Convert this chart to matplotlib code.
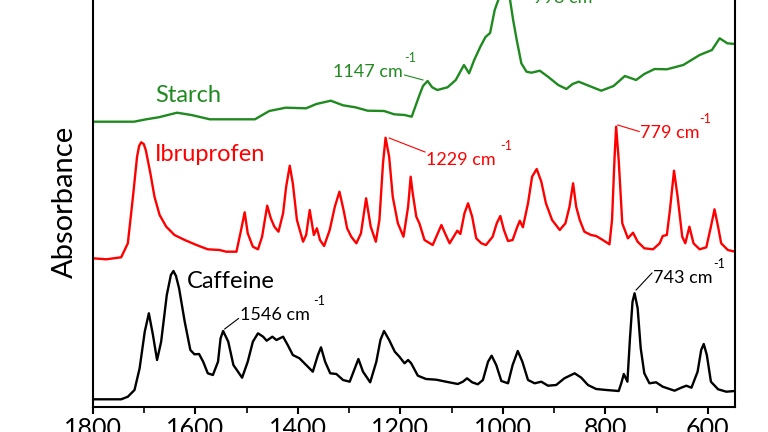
import matplotlib
matplotlib.use("Agg")
import matplotlib.pyplot as plt
from matplotlib.ticker import MultipleLocator

plt.rcParams['font.family'] = ['Lato', 'DejaVu Sans']

# ---------------- data (wavenumber cm^-1, absorbance a.u., stacked) ----------------
caffeine_wn = [1800, 1745, 1732, 1719, 1709, 1699, 1691, 1683, 1675, 1667, 1656, 1648, 1643,
               1638, 1632,
               1621, 1610, 1602, 1593, 1585, 1576, 1566, 1556, 1551, 1546, 1536, 1526, 1509,
               1498, 1488, 1478, 1468, 1461, 1450, 1442, 1429, 1420, 1410, 1397, 1384, 1371,
               1361, 1355, 1347, 1337, 1325, 1312, 1299, 1289, 1282, 1273, 1259, 1247, 1239,
               1232, 1222, 1211, 1202, 1192, 1185, 1179, 1172, 1166, 1150, 1130, 1111, 1088,
               1078, 1070, 1060, 1049, 1039, 1029, 1022, 1013, 1003, 990, 981, 971, 962, 951,
               938, 925, 912, 896, 880, 860, 847, 834, 818, 798, 774, 769, 764, 757, 752, 747,
               743, 737, 731, 724, 714, 701, 688, 665, 652, 642, 632, 620, 613, 608, 602, 594,
               580, 564, 547]
caffeine_ab = [0.077, 0.077, 0.103, 0.17, 0.387, 0.753, 0.937, 0.72, 0.47, 0.653, 1.12, 1.32,
               1.36, 1.31,
               1.187, 0.853, 0.57, 0.527, 0.53, 0.453, 0.337, 0.32, 0.453, 0.687, 0.76, 0.653,
               0.42, 0.293, 0.453, 0.653, 0.737, 0.703, 0.663, 0.703, 0.67, 0.703, 0.62, 0.52,
               0.487, 0.42, 0.353, 0.52, 0.597, 0.453, 0.337, 0.33, 0.27, 0.253, 0.387, 0.48,
               0.353, 0.247, 0.453, 0.67, 0.76, 0.67, 0.553, 0.503, 0.437, 0.47, 0.437, 0.37,
               0.313, 0.28, 0.273, 0.253, 0.23, 0.253, 0.287, 0.247, 0.227, 0.27, 0.453, 0.513,
               0.42, 0.26, 0.237, 0.42, 0.56, 0.453, 0.27, 0.237, 0.253, 0.213, 0.22, 0.287,
               0.337, 0.293, 0.22, 0.18, 0.17, 0.16, 0.237, 0.33, 0.253, 0.687, 1.053, 1.137,
               0.987, 0.587, 0.337, 0.237, 0.247, 0.203, 0.163, 0.193, 0.213, 0.193, 0.353,
               0.57, 0.63, 0.52, 0.253, 0.177, 0.153, 0.16]

ibuprofen_wn = [1800, 1774, 1745, 1732, 1722, 1714, 1710, 1706, 1701, 1697, 1688, 1680, 1670,
                1657, 1641,
                1621, 1598, 1576, 1553, 1540, 1520, 1511, 1504, 1498, 1488, 1478, 1470, 1460,
                1453, 1446, 1438, 1429, 1423, 1416, 1410, 1402, 1390, 1384, 1377, 1369, 1363,
                1357, 1349, 1338, 1328, 1319, 1311, 1304, 1296, 1286, 1277, 1267, 1258, 1248,
                1241, 1234, 1229, 1222, 1215, 1205, 1194, 1185, 1180, 1176, 1169, 1163, 1153,
                1137, 1127, 1120, 1113, 1104, 1094, 1089, 1083, 1075, 1068, 1060, 1052, 1042,
                1033, 1020, 1012, 1005, 998, 990, 981, 973, 967, 961, 951, 943, 934, 925, 916,
                904, 889, 878, 870, 863, 857, 850, 841, 828, 818, 805, 792, 787, 782, 779, 774,
                767, 756, 746, 737, 724, 707, 694, 688, 680, 674, 666, 659, 650, 644, 636, 628,
                616, 603, 594, 587, 580, 574, 561, 547]
ibuprofen_ab = [1.487, 1.477, 1.497, 1.637, 2.103, 2.503, 2.61, 2.647, 2.63, 2.57, 2.337,
                2.103, 1.92, 1.803, 1.72,
                1.67, 1.62, 1.577, 1.57, 1.553, 1.553, 1.77, 1.947, 1.737, 1.603,
                1.577, 1.703, 2.013, 1.887, 1.803, 1.753, 1.937, 2.203, 2.413, 2.237, 1.87,
                1.653, 1.72, 1.97, 1.72, 1.787, 1.67, 1.61, 1.77, 2.003, 2.153, 1.97, 1.787,
                1.703, 1.637, 1.737, 2.087, 1.803, 1.653, 1.87, 2.437, 2.693, 2.503, 2.103,
                1.837, 1.703, 2.003, 2.303, 2.137, 1.903, 1.837, 1.67, 1.62, 1.737, 1.82,
                1.737, 1.637, 1.72, 1.763, 1.73, 1.937, 2.037, 1.903, 1.687, 1.637, 1.62,
                1.703, 1.837, 1.91, 1.77, 1.66, 1.67, 1.787, 1.863, 1.797, 2.037, 2.303, 2.38,
                2.253, 2.037, 1.87, 1.77, 1.837, 2.003, 2.237, 2.003, 1.87, 1.753, 1.72, 1.71,
                1.67, 1.627, 1.87, 2.503, 2.803, 2.47, 1.837, 1.687, 1.743, 1.653, 1.587,
                1.577, 1.637, 1.71, 1.72, 1.97, 2.363, 2.103, 1.703, 1.637, 1.803, 1.637,
                1.577, 1.597, 1.803, 1.977, 1.803, 1.637, 1.57, 1.553]

starch_wn = [1800, 1720, 1696, 1672, 1636, 1608, 1572, 1484, 1456, 1424, 1384, 1364, 1336,
             1312, 1288, 1264, 1232, 1212, 1192, 1178, 1164, 1156, 1147, 1138, 1128, 1108,
             1092, 1076, 1066, 1056, 1044, 1034, 1025, 1016, 1009, 1003, 998, 992, 986, 980,
             973, 964, 954, 944, 928, 912, 892, 876, 864, 852, 836, 808, 784, 762, 740, 724,
             704, 680, 648, 616, 592, 577, 562, 547]
starch_ab = [2.853, 2.853, 2.877, 2.897, 2.943, 2.92, 2.877, 2.877, 2.96, 2.993, 2.987, 3.03,
             3.063, 3.017, 2.997, 2.963, 2.96, 2.927, 2.92, 2.903, 3.103, 3.21, 3.26, 3.197,
             3.17, 3.197, 3.27, 3.42, 3.337, 3.47, 3.603, 3.70, 3.74, 3.97, 4.07, 4.20, 4.25,
             4.20, 4.07, 3.87, 3.67, 3.437, 3.353, 3.343, 3.363, 3.303, 3.22, 3.18, 3.23,
             3.253, 3.22, 3.163, 3.21, 3.31, 3.27, 3.33, 3.38, 3.377, 3.42, 3.52, 3.57, 3.687,
             3.637, 3.63]

x_ticks = [1800, 1600, 1400, 1200, 1000, 800, 600]
y_label = "Absorbance"

GREEN = '#1f8a1f'
RED = '#ff0000'
BLACK = '#000000'

# ---------------- figure ----------------
W, H = 768, 432
fig = plt.figure(figsize=(W / 100, H / 100), dpi=100)
ax = fig.add_axes([93 / W, 25 / H, 642 / W, 447 / H])

for wn, ab, c in [(caffeine_wn, caffeine_ab, BLACK),
                  (ibuprofen_wn, ibuprofen_ab, RED),
                  (starch_wn, starch_ab, GREEN)]:
    ax.plot(wn, ab, color=c, lw=1.7, solid_joinstyle='round', solid_capstyle='round')

ax.set_xlim(1800, 547)
ax.set_ylim(0, 4.47)

for s in ['left', 'right', 'bottom', 'top']:
    ax.spines[s].set_linewidth(1.5)

ax.set_xticks(x_ticks)
ax.set_xticklabels([str(t) for t in x_ticks])
ax.xaxis.set_minor_locator(MultipleLocator(100))
ax.tick_params(axis='x', which='major', direction='out', length=5, width=1.5,
               labelsize=18, pad=2)
ax.tick_params(axis='x', which='minor', direction='out', length=4, width=1.2)
ax.set_yticks([])

fig.text(65 / W, 1 - 201.7 / H, y_label, rotation=90, ha='center', va='center',
         fontsize=21)

# sample names
ax.text(1679, 3.05, "Starch", color=GREEN, fontsize=17, va='baseline', ha='left')
ax.text(1679, 2.46, "Ibruprofen", color=RED, fontsize=17, va='baseline', ha='left')
ax.text(1616, 1.19, "Caffeine", color=BLACK, fontsize=17, va='baseline', ha='left')


def label(txt, tx, ty, sx, sy, line, color):
    ax.text(tx, ty, txt + " cm", color=color, fontsize=13, va='baseline', ha='left',
            clip_on=False)
    ax.text(sx, sy, "-1", color=color, fontsize=9, va='baseline', ha='left', clip_on=False)
    if line is not None:
        ax.plot(line[0], line[1], color=color, lw=0.8, clip_on=False)


label("1546", 1514, 0.87, 1371, 1.02, ([1543, 1516], [0.78, 0.885]), BLACK)
label("743", 707, 1.237, 590, 1.387, ([740, 709], [1.17, 1.34]), BLACK)
label("1229", 1150, 2.42, 1006, 2.57, ([1222, 1152], [2.69, 2.55]), RED)
label("779", 733, 2.687, 616, 2.837, ([776, 734], [2.82, 2.755]), RED)
label("1147", 1332, 3.303, 1192, 3.453, ([1192, 1156], [3.32, 3.27]), GREEN)
label("998", 942, 4.037, 815, 4.19, None, GREEN)

fig.savefig("out.png", dpi=100)
